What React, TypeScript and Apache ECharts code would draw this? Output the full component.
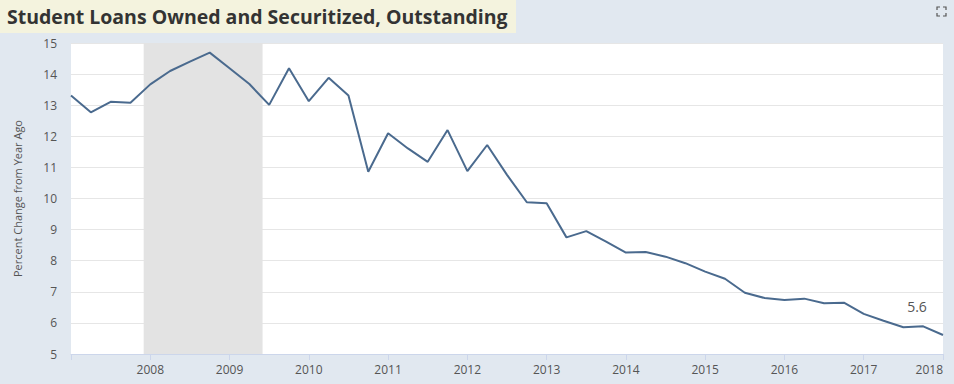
import React, { useEffect, useRef } from "react";
import * as echarts from "echarts";

const TITLE = "Student Loans Owned and Securitized, Outstanding";
const Y_NAME = "Percent Change from Year Ago";

const quarters: string[] = [
  "2007-01-01", "2007-04-01", "2007-07-01", "2007-10-01",
  "2008-01-01", "2008-04-01", "2008-07-01", "2008-10-01",
  "2009-01-01", "2009-04-01", "2009-07-01", "2009-10-01",
  "2010-01-01", "2010-04-01", "2010-07-01", "2010-10-01",
  "2011-01-01", "2011-04-01", "2011-07-01", "2011-10-01",
  "2012-01-01", "2012-04-01", "2012-07-01", "2012-10-01",
  "2013-01-01", "2013-04-01", "2013-07-01", "2013-10-01",
  "2014-01-01", "2014-04-01", "2014-07-01", "2014-10-01",
  "2015-01-01", "2015-04-01", "2015-07-01", "2015-10-01",
  "2016-01-01", "2016-04-01", "2016-07-01", "2016-10-01",
  "2017-01-01", "2017-04-01", "2017-07-01", "2017-10-01",
  "2018-01-01",
];

const values: number[] = [
  13.31, 12.77, 13.11, 13.08,
  13.67, 14.1, 14.4, 14.69,
  14.19, 13.68, 13.01, 14.19,
  13.13, 13.88, 13.31, 10.86,
  12.1, 11.61, 11.18, 12.2,
  10.88, 11.72, 10.76, 9.88,
  9.85, 8.75, 8.95, 8.61,
  8.26, 8.28, 8.13, 7.92,
  7.65, 7.42, 6.97, 6.8,
  6.74, 6.78, 6.63, 6.65,
  6.29, 6.07, 5.86, 5.89,
  5.61,
];

const recessionStart = "2007-12-01";
const recessionEnd = "2009-06-01";

const xMinYear = 2007;
const xMaxYear = 2018;
const yMin = 5;
const yMax = 15;

function toYear(d: string): number {
  const [y, m] = d.split("-").map(Number);
  return y + (m - 1) / 12;
}

export default function App() {
  const ref = useRef<HTMLDivElement>(null);

  useEffect(() => {
    if (!ref.current) return;
    const chart = echarts.init(ref.current, undefined, { renderer: "svg" });
    const lastIdx = values.length - 1;
    const data = values.map((v, i) => [toYear(quarters[i]), v]);
    const lastPoint = data[lastIdx];

    chart.setOption({
      animation: false,
      backgroundColor: "#e1e8f0",
      grid: {
        left: 71,
        right: 11,
        top: 43,
        bottom: 30,
        show: true,
        backgroundColor: "#ffffff",
        borderWidth: 0,
        containLabel: false,
        outerBoundsMode: "none",
      },
      graphic: [
        {
          type: "rect",
          shape: { x: 0, y: 0, width: 516, height: 33 },
          style: { fill: "#f4f3de" },
          silent: true,
        },
        {
          type: "text",
          x: 7,
          y: 16,
          style: {
            text: TITLE,
            fontFamily: "Open Sans",
            fontWeight: "bold",
            fontSize: 19.5,
            fill: "#333333",
            verticalAlign: "middle",
          },
        },
        {
          type: "polyline",
          shape: { points: [[937, 10], [937, 7], [940, 7]] },
          style: { stroke: "#555", lineWidth: 1.2, fill: "none" },
        },
        {
          type: "polyline",
          shape: { points: [[943, 7], [946, 7], [946, 10]] },
          style: { stroke: "#555", lineWidth: 1.2, fill: "none" },
        },
        {
          type: "polyline",
          shape: { points: [[937, 13], [937, 16], [940, 16]] },
          style: { stroke: "#555", lineWidth: 1.2, fill: "none" },
        },
        {
          type: "polyline",
          shape: { points: [[943, 16], [946, 16], [946, 13]] },
          style: { stroke: "#555", lineWidth: 1.2, fill: "none" },
        },
      ],
      xAxis: {
        type: "value",
        min: xMinYear,
        max: xMaxYear,
        interval: 1,
        axisLine: { show: true, lineStyle: { color: "#ccd6eb" } },
        axisTick: { show: true, length: 6, lineStyle: { color: "#ccd6eb" } },
        splitLine: { show: false },
        axisLabel: {
          color: "#555",
          fontSize: 12,
          fontFamily: "Open Sans",
          margin: 9,
          alignMaxLabel: "right",
          formatter: (v: number) => (v === xMinYear ? "" : String(v)),
        },
      },
      yAxis: {
        type: "value",
        min: yMin,
        max: yMax,
        interval: 1,
        name: Y_NAME,
        nameLocation: "middle",
        nameGap: 48,
        nameRotate: 90,
        nameTextStyle: { color: "#555", fontSize: 11, fontFamily: "Open Sans" },
        axisLine: { show: false },
        axisTick: { show: false },
        splitLine: { show: true, lineStyle: { color: "#e6e6e6", width: 1 } },
        axisLabel: {
          color: "#555",
          fontSize: 12,
          fontFamily: "Open Sans",
          margin: 14,
        },
      },
      series: [
        {
          type: "line",
          data,
          symbol: "none",
          showSymbol: false,
          lineStyle: { color: "#4a6a8e", width: 2 },
          itemStyle: { color: "#4a6a8e" },
          markArea: {
            silent: true,
            itemStyle: { color: "#e3e3e3" },
            data: [[{ xAxis: toYear(recessionStart) }, { xAxis: toYear(recessionEnd) }]],
          },
          markPoint: {
            silent: true,
            symbol: "circle",
            symbolSize: 0,
            data: [
              {
                coord: lastPoint,
                label: {
                  show: true,
                  formatter: values[lastIdx].toFixed(1),
                  position: "inside",
                  offset: [-26, -29],
                  fontSize: 14,
                  color: "#555",
                  fontFamily: "Open Sans",
                },
              },
            ],
          },
          z: 3,
        },
      ],
    });
    return () => chart.dispose();
  }, []);

  return (
    <div
      ref={ref}
      style={{ position: "fixed", left: 0, top: 0, width: 954, height: 384 }}
    />
  );
}
